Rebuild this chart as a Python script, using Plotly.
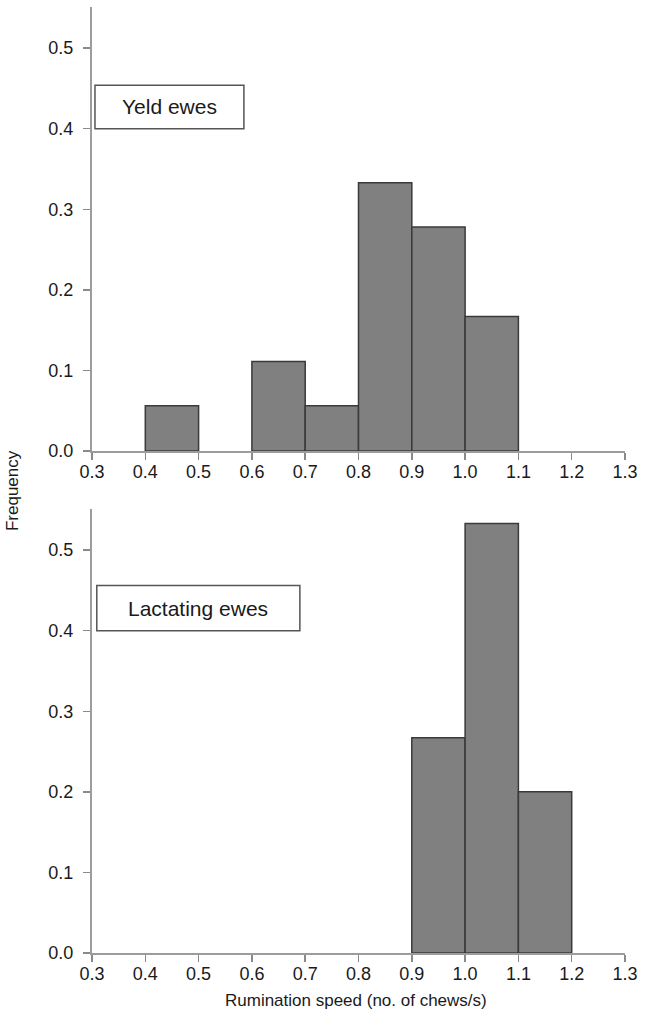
import plotly.graph_objects as go

# Data
bin_width = 0.1
yeld_centers = [0.45, 0.65, 0.75, 0.85, 0.95, 1.05]
yeld_freq = [0.056, 0.111, 0.056, 0.333, 0.278, 0.167]
lact_centers = [0.95, 1.05, 1.15]
lact_freq = [0.267, 0.533, 0.200]
x_ticks = [0.3, 0.4, 0.5, 0.6, 0.7, 0.8, 0.9, 1.0, 1.1, 1.2, 1.3]
y_ticks = [0.0, 0.1, 0.2, 0.3, 0.4, 0.5]
panel_labels = ["Yeld ewes", "Lactating ewes"]
x_title = "Rumination speed (no. of chews/s)"
y_title = "Frequency"

W, H = 655, 1017
ml, mr, mt, mb = 92, 29.7, 7, 64
plot_h = H - mt - mb
plot_w = W - ml - mr

top_px = (7, 451)
bot_px = (509, 953)

def dom(p):
    return [(H - mb - p[1]) / plot_h, (H - mb - p[0]) / plot_h]

def py(pix):
    return (H - mb - pix) / plot_h

def px(pix):
    return (pix - ml) / plot_w

fig = go.Figure()

bar_style = dict(marker=dict(color="#808080", line=dict(color="#3a3a3a", width=1.5)),
                 width=bin_width, showlegend=False, hoverinfo="skip")
fig.add_trace(go.Bar(x=yeld_centers, y=yeld_freq, xaxis="x", yaxis="y", **bar_style))
fig.add_trace(go.Bar(x=lact_centers, y=lact_freq, xaxis="x2", yaxis="y2", **bar_style))

tick_font = dict(family="Liberation Sans, Arial, sans-serif", size=18, color="#1a1a1a")
title_font = dict(tick_font, size=17)
box_font = dict(tick_font, size=21)
ax_common = dict(showgrid=False, zeroline=False, showline=True, linecolor="#9c9c9c", linewidth=2,
                 ticks="outside", ticklen=7, tickcolor="#8a8a8a", tickwidth=1.5, tickfont=tick_font,
                 automargin=False)
x_common = dict(domain=[0, 1], range=[0.3, 1.3], tickvals=x_ticks,
                ticktext=[f"{v:.1f}" for v in x_ticks], ticklabelstandoff=-4, **ax_common)
y_common = dict(range=[0, 0.551], tickvals=y_ticks,
                ticktext=[f"{v:.1f}" for v in y_ticks], ticklabelstandoff=6, **ax_common)

fig.update_layout(
    width=W, height=H,
    margin=dict(l=ml, r=mr, t=mt, b=mb, autoexpand=False),
    paper_bgcolor="white", plot_bgcolor="white",
    bargap=0,
    xaxis=dict(anchor="y", **x_common),
    yaxis=dict(domain=dom(top_px), anchor="x", **y_common),
    xaxis2=dict(anchor="y2", **x_common),
    yaxis2=dict(domain=dom(bot_px), anchor="x2", **y_common),
)

# Label boxes
boxes = [("x", "y", 0.3056, 0.585, 0.4, 0.454), ("x2", "y2", 0.309, 0.690, 0.4, 0.456)]
for (xr, yr, x0, x1, y0, y1), label in zip(boxes, panel_labels):
    fig.add_shape(type="rect", xref=xr, yref=yr, x0=x0, x1=x1, y0=y0, y1=y1,
                  line=dict(color="#555555", width=1.5), fillcolor="white")
    fig.add_annotation(xref=xr, yref=yr, x=(x0 + x1) / 2, y=(y0 + y1) / 2, text=label,
                       showarrow=False, font=box_font)

fig.add_annotation(xref="paper", yref="paper", x=px(12), y=py(491), text=y_title,
                   textangle=-90, showarrow=False, font=title_font, xanchor="center", yanchor="middle")
fig.add_annotation(xref="paper", yref="paper", x=px(356), y=py(1001), text=x_title,
                   showarrow=False, font=title_font, xanchor="center", yanchor="middle")

fig.write_html("out.html", config={"displayModeBar": False, "staticPlot": True},
               post_script="document.body.style.margin='0';")
